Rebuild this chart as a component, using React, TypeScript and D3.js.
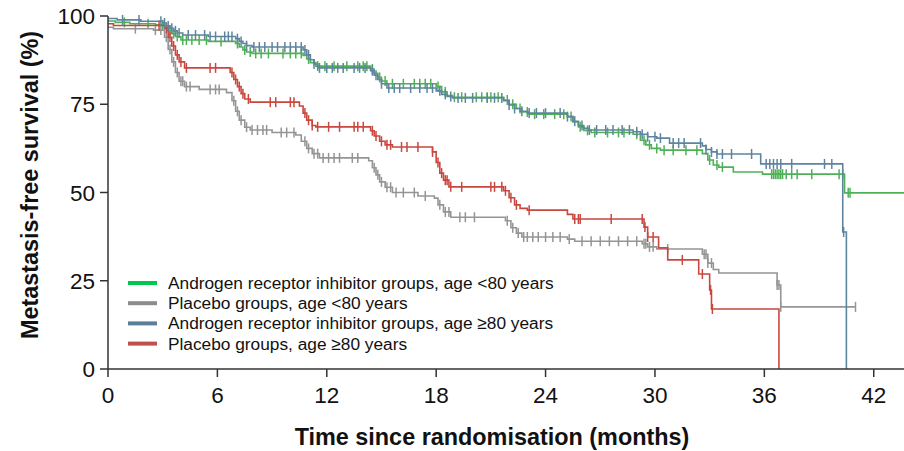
import React from "react";
import * as d3 from "d3";

// ---------- data (time in months, survival in %) ----------
const xTicks = [0, 6, 12, 18, 24, 30, 36, 42];
const yTicks = [0, 25, 50, 75, 100];

const legendLabels = [
  "Androgen receptor inhibitor groups, age <80 years",
  "Placebo groups, age <80 years",
  "Androgen receptor inhibitor groups, age \u226580 years",
  "Placebo groups, age \u226580 years",
];

const arUnder80: [number, number][] = [
  [0, 98.6], [0.4, 98.2], [1.2, 97.8], [2.6, 97.5], [3.1, 96.8], [3.3, 95.8], [3.5, 95.0], [3.7, 94.2], [4.0, 93.2],
  [5.5, 92.8], [7.0, 92.2], [7.2, 91.2], [7.4, 90.4], [7.6, 89.8], [7.9, 89.4], [10.7, 88.8], [10.9, 87.8],
  [11.1, 86.8], [11.4, 85.8], [14.4, 85.0], [14.6, 83.8], [14.8, 82.6], [15.0, 81.6], [15.3, 80.8], [18.0, 80.0],
  [18.3, 78.5], [18.6, 77.5], [18.9, 77.0], [21.7, 76.2], [22.0, 75.0], [22.4, 73.8], [22.7, 72.8], [23.1, 72.2],
  [25.2, 71.5], [25.5, 70.0], [25.8, 68.6], [26.1, 67.6], [26.5, 67.0], [28.8, 66.5], [29.2, 64.8], [29.5, 63.5],
  [29.8, 62.5], [30.3, 62.0], [32.6, 61.0], [32.9, 59.2], [33.2, 57.8], [33.5, 57.2], [34.3, 55.8], [35.9, 55.2],
  [40.4, 49.9], [43.7, 49.9],
];
const arUnder80Censor = [
  0.9, 2.2, 3.0, 3.4, 3.6, 3.8, 4.1, 4.3, 4.6, 5.0, 5.4, 6.2, 7.1, 7.5, 7.8, 8.1, 8.4, 8.8, 9.6, 10.0, 10.3, 10.6,
  11.0, 11.5, 11.9, 12.4, 13.1, 13.7, 14.0, 14.2, 14.5, 14.9, 15.2, 15.6, 16.2, 16.8, 17.1, 17.4, 17.7, 18.1,
  18.5, 19.0, 19.4, 20.2, 20.5, 20.8, 21.0, 21.4, 21.9, 22.2, 22.6, 23.0, 23.4, 23.9, 24.5, 25.0, 25.4, 25.9,
  26.3, 26.7, 27.4, 28.0, 28.3, 29.0, 29.4, 29.7, 30.1, 30.5, 31.0, 31.7, 32.3, 33.0, 33.4, 33.7, 36.4, 36.5,
  36.6, 36.7, 36.8, 36.9, 37.0, 37.2, 37.5, 37.8, 38.6, 40.1, 40.3, 40.6, 40.7,
];

const plUnder80: [number, number][] = [
  [0, 96.8], [0.3, 96.4], [2.5, 96.0], [3.1, 94.0], [3.3, 90.5], [3.5, 87.0], [3.7, 84.0], [3.9, 81.5], [4.2, 80.0],
  [5.0, 79.2], [6.5, 78.3], [6.8, 76.0], [7.0, 73.0], [7.2, 70.5], [7.5, 68.5], [7.8, 67.7], [9.0, 67.0],
  [10.3, 66.3], [10.6, 64.5], [10.9, 62.5], [11.2, 61.0], [11.6, 59.8], [14.3, 59.0], [14.5, 57.0], [14.7, 55.0],
  [14.9, 53.0], [15.2, 51.5], [15.6, 50.0], [17.0, 49.0], [17.9, 48.4], [18.1, 46.5], [18.4, 44.5], [18.8, 43.0],
  [21.8, 42.0], [22.1, 40.0], [22.4, 38.5], [22.7, 37.4], [25.2, 36.8], [25.6, 36.2], [29.3, 35.5], [29.6, 34.6],
  [30.1, 34.0], [32.6, 32.5], [32.9, 30.0], [33.2, 28.2], [33.5, 27.2], [36.7, 23.8], [36.9, 17.6], [41.0, 17.6],
];
const plUnder80Censor = [
  1.5, 2.6, 2.9, 3.2, 3.4, 3.6, 3.8, 4.0, 4.1, 4.3, 4.5, 5.6, 5.9, 6.1, 6.9, 7.1, 7.3, 7.6, 7.9, 8.2, 8.5, 8.7,
  9.5, 9.8, 10.2, 10.8, 11.0, 11.3, 11.5, 11.8, 12.1, 12.4, 12.7, 13.4, 13.7, 14.6, 14.8, 15.0, 15.3, 15.5, 15.8,
  16.2, 16.8, 17.4, 18.2, 18.5, 18.7, 19.3, 19.6, 20.1, 21.9, 22.2, 22.5, 22.8, 23.0, 23.3, 23.6, 24.0, 24.4,
  24.8, 25.3, 26.0, 26.5, 27.0, 27.5, 28.0, 28.5, 29.0, 29.4, 29.5, 29.7, 29.9, 30.7, 32.7, 32.8, 32.9, 33.1,
  36.7, 36.8, 36.9, 41.0,
];

const arOver80: [number, number][] = [
  [0, 99.3], [0.5, 98.9], [1.8, 98.5], [3.0, 98.0], [3.2, 97.2], [3.4, 96.5], [3.6, 95.8], [3.8, 95.2], [4.1, 94.6],
  [5.5, 94.2], [7.0, 93.6], [7.2, 92.8], [7.4, 92.2], [7.6, 91.6], [7.9, 91.2], [10.7, 90.4], [10.9, 89.0],
  [11.1, 87.6], [11.3, 86.4], [11.5, 85.3], [14.4, 84.5], [14.6, 83.2], [14.8, 82.0], [15.0, 80.8], [15.3, 79.6],
  [18.0, 78.8], [18.3, 77.8], [18.6, 77.2], [18.9, 76.8], [21.7, 76.0], [22.0, 74.8], [22.3, 73.8], [22.6, 73.0],
  [23.0, 72.5], [25.2, 71.5], [25.5, 70.2], [25.8, 69.0], [26.1, 68.2], [26.4, 67.7], [28.8, 67.2], [29.2, 66.5],
  [29.6, 65.8], [30.1, 65.4], [30.8, 64.0], [32.6, 63.2], [32.8, 62.2], [33.1, 61.5], [33.4, 60.9], [35.8, 58.1],
  [40.3, 38.8], [40.5, 0],
];
const arOver80Censor = [
  0.8, 1.7, 2.9, 3.1, 3.3, 3.5, 3.7, 3.9, 4.4, 4.8, 5.3, 5.6, 5.9, 6.4, 6.6, 6.8, 7.1, 7.3, 7.6, 8.0, 8.3, 8.6,
  9.0, 9.3, 9.7, 10.0, 10.3, 10.6, 10.8, 11.0, 11.3, 11.6, 12.0, 12.3, 12.6, 12.9, 13.5, 13.8, 14.1, 14.5, 14.7,
  15.0, 15.4, 15.7, 16.0, 16.6, 17.1, 17.5, 17.8, 18.2, 18.5, 18.8, 19.2, 19.6, 20.0, 20.8, 21.2, 21.6, 22.0,
  22.3, 22.7, 23.1, 23.5, 24.0, 24.8, 25.2, 25.6, 26.0, 26.4, 26.8, 27.3, 27.7, 28.2, 28.6, 29.0, 29.3, 29.6,
  30.0, 30.3, 31.0, 31.3, 31.6, 32.5, 32.8, 33.1, 33.4, 33.7, 34.2, 35.3, 36.1, 36.3, 36.5, 36.7, 36.9, 37.5,
  39.3, 39.7, 40.35,
];

const plOver80: [number, number][] = [
  [0, 97.8], [0.3, 97.3], [3.1, 96.5], [3.3, 94.0], [3.5, 91.5], [3.7, 89.0], [3.9, 87.0], [4.2, 85.3], [6.7, 84.0],
  [6.9, 82.0], [7.1, 80.0], [7.3, 78.0], [7.5, 76.5], [7.8, 75.6], [10.5, 74.5], [10.7, 72.5], [10.9, 70.5],
  [11.2, 69.0], [11.4, 68.6], [14.4, 67.5], [14.6, 66.0], [14.9, 64.5], [15.2, 63.5], [15.6, 62.9], [17.8, 61.5],
  [18.0, 58.5], [18.2, 55.5], [18.4, 53.5], [18.7, 51.6], [21.7, 50.5], [22.0, 48.5], [22.3, 46.5], [22.6, 45.5],
  [23.0, 45.0], [25.2, 43.8], [25.5, 42.5], [29.4, 40.2], [29.6, 37.4], [30.2, 34.3], [30.7, 30.9], [32.4, 26.9],
  [33.0, 22.4], [33.1, 17.0], [36.8, 0],
];
const plOver80Censor = [
  2.8, 3.2, 3.4, 3.6, 3.8, 4.0, 4.3, 5.6, 5.9, 6.8, 7.0, 7.2, 7.4, 7.7, 8.9, 9.2, 10.0, 10.2, 10.8, 11.0, 11.2,
  11.5, 12.1, 12.7, 13.5, 13.7, 14.0, 14.5, 14.7, 15.0, 15.3, 15.5, 16.1, 16.4, 17.0, 17.8, 18.1, 18.3, 18.5,
  18.6, 18.8, 19.4, 21.0, 21.2, 21.6, 21.8, 22.1, 22.4, 23.1, 25.6, 25.8, 25.9, 27.6, 29.3, 29.45, 29.6, 29.9,
  31.5, 32.6, 33.05, 33.15,
];

const seriesList = [
  { data: arUnder80, censor: arUnder80Censor, color: "#4fb057", legend: "#00c84a" },
  { data: plUnder80, censor: plUnder80Censor, color: "#959595", legend: "#8c8c8c" },
  { data: arOver80, censor: arOver80Censor, color: "#5f849e", legend: "#5b7f99" },
  { data: plOver80, censor: plOver80Censor, color: "#c8473f", legend: "#c0504d" },
];

const W = 904;
const H = 451;
const font = "'Liberation Sans', Arial, sans-serif";

function survAt(data: [number, number][], t: number) {
  let s = data[0][1];
  for (const [tt, v] of data) {
    if (tt <= t) s = v;
    else break;
  }
  return s;
}

export default function App() {
  const x = d3.scaleLinear().domain([0, 43.66]).range([108, 904]);
  const y = d3.scaleLinear().domain([0, 100]).range([369, 16]);
  const line = d3
    .line<[number, number]>()
    .x((d) => x(d[0]))
    .y((d) => y(d[1]))
    .curve(d3.curveStepAfter);

  const order = [0, 1, 3, 2];

  return (
    <svg
      width={W}
      height={H}
      style={{ position: "absolute", left: 0, top: 0, background: "#fff" }}
      fontFamily={font}
    >
      <rect width={W} height={H} fill="#fff" />
      {order.map((i) => {
        const s = seriesList[i];
        return (
          <g key={i}>
            <path d={line(s.data) || ""} fill="none" stroke={s.color} strokeWidth={1.6} />
            {s.censor.map((t, k) => {
              const cx = x(t);
              const cy = y(survAt(s.data, t));
              return (
                <line key={k} x1={cx} x2={cx} y1={cy - 5} y2={cy + 5} stroke={s.color} strokeWidth={1.5} />
              );
            })}
          </g>
        );
      })}

      {/* axes */}
      <line x1={108} x2={108} y1={16} y2={369} stroke="#333" strokeWidth={1.5} />
      <line x1={108} x2={904} y1={369} y2={369} stroke="#333" strokeWidth={1.5} />
      {yTicks.map((v) => (
        <g key={v}>
          <line x1={100} x2={108} y1={y(v)} y2={y(v)} stroke="#333" strokeWidth={1.5} />
          <text x={95} y={y(v)} dy="0.36em" textAnchor="end" fontSize={22.5} fill="#111">
            {v}
          </text>
        </g>
      ))}
      {xTicks.map((v) => (
        <g key={v}>
          <line x1={x(v)} x2={x(v)} y1={369} y2={377} stroke="#333" strokeWidth={1.5} />
          <text x={x(v)} y={403} textAnchor="middle" fontSize={22.5} fill="#111">
            {v}
          </text>
        </g>
      ))}
      <text x={492} y={445} textAnchor="middle" fontSize={23.4} fontWeight="bold" fill="#111">
        Time since randomisation (months)
      </text>
      <text
        transform={`translate(38,${(30 + 340) / 2}) rotate(-90)`}
        textAnchor="middle"
        fontSize={23.4}
        fontWeight="bold"
        fill="#111"
      >
        Metastasis-free survival (%)
      </text>

      {/* legend */}
      {legendLabels.map((lab, i) => {
        const ly = 283 + i * 20.2;
        return (
          <g key={lab}>
            <line x1={128} x2={157} y1={ly} y2={ly} stroke={seriesList[i].legend} strokeWidth={4} />
            <text x={168} y={ly} dy="0.35em" fontSize={17.3} fill="#111">
              {lab}
            </text>
          </g>
        );
      })}
    </svg>
  );
}
